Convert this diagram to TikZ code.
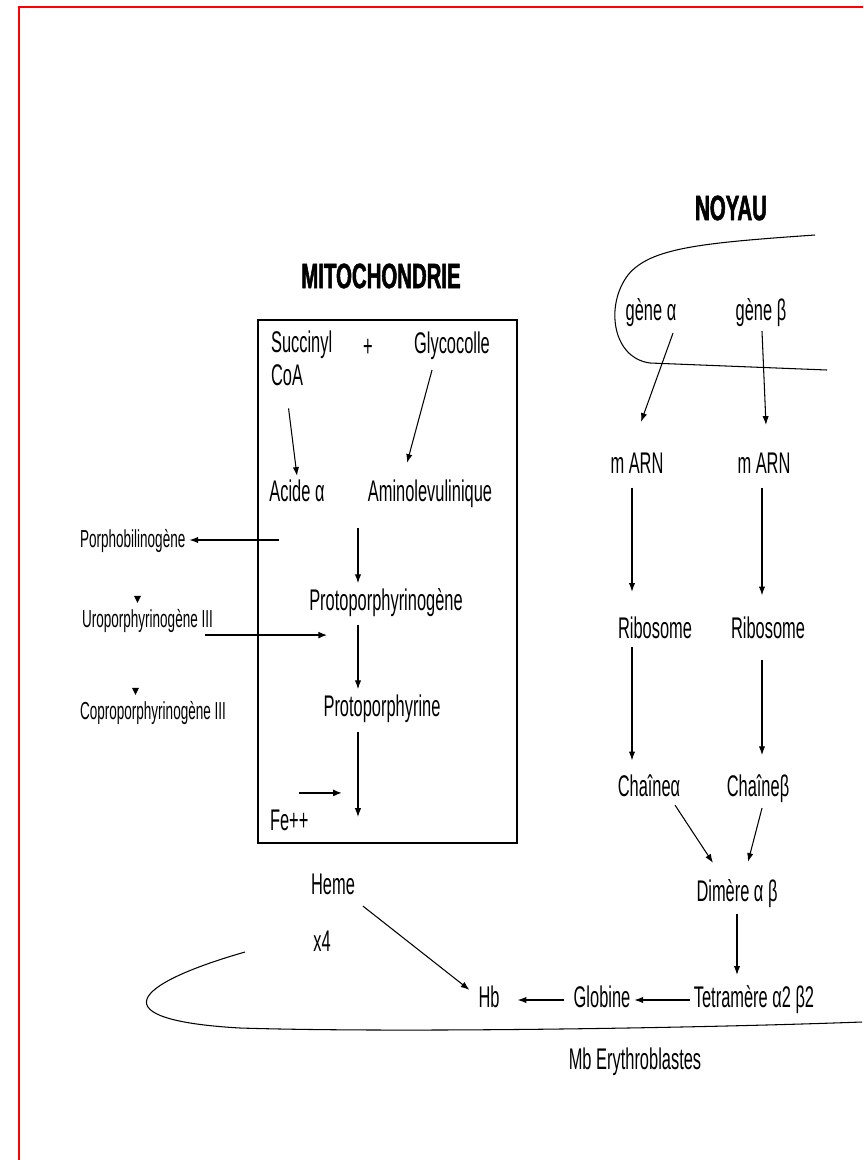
\documentclass[tikz,border=0pt]{standalone}
\usepackage{fontspec}
\setmainfont[FakeStretch=0.55]{Liberation Sans}
\newfontfamily\titlefont[FakeStretch=0.58,FakeBold=1.5]{Liberation Sans}
\usetikzlibrary{calc,arrows.meta}
\tikzset{
  lbl/.style={font=\fontsize{17pt}{19pt}\selectfont, inner sep=2pt, text height=12.5pt, text depth=3.5pt},
  petit/.style={lbl, font=\fontsize{14pt}{16pt}\selectfont},
  titre/.style={font=\titlefont\bfseries\fontsize{20pt}{22pt}\selectfont, inner sep=2pt},
  arr/.style={-{Latex[length=5pt,width=3.6pt]}},
  arrgras/.style={-{Latex[length=5pt,width=4pt]}, line width=1.3pt},
}

\begin{document}
\begin{tikzpicture}[x=0.02cm, y=-0.02cm, line width=0.6pt]
\useasboundingbox (0,0) rectangle (863,1160);
\draw[red, line width=1.6pt] (19,1160) -- (19,7) -- (863,7);

% mitochondrie
\node[titre] (mito) at (381,276) {MITOCHONDRIE};
\draw (258,320) rectangle (517,843);
\draw[line width=1.2pt] (258,843) -- (517,843);
\node[lbl, anchor=west] (succ) at (267,345) {Succinyl};
\node[lbl, anchor=west] (coa) at (267,378) {CoA};
\node[lbl] (plus) at (368,349) {+};
\node[lbl] (glyco) at (452,346) {Glycocolle};
\node[lbl] (acide) at (297,494) {Acide α};
\node[lbl] (amino) at (430,494) {Aminolevulinique};
\node[lbl] (protogene) at (386,603) {Protoporphyrinogène};
\node[lbl] (protoph) at (382,709) {Protoporphyrine};
\node[lbl, anchor=west] (fe) at (266,823) {Fe++};
\node[petit, anchor=west] (porpho) at (76,540) {Porphobilinogène};
\node[petit, anchor=west] (uro) at (78,620) {Uroporphyrinogène III};
\node[petit, anchor=west] (copro) at (76,712) {Coproporphyrinogène III};

\coordinate (axe) at (358,0);
\coordinate (pbg) at (279,540);
\coordinate (fin) at (358,817);
\draw[arr, shorten <=7pt] (coa.south) -- (acide.north);
\draw[arr] ($(glyco.south)+(-20,6)$) -- ($(amino.north)+(-23,-13)$);
\draw[arr, shorten <=9pt, shorten >=1pt] (amino.south -| axe) -- (protogene.north -| axe);
\draw[arr, shorten <=2pt, shorten >=1pt] (protogene.south -| axe) -- (protoph.north -| axe);
\draw[arr, shorten <=3pt] (protoph.south -| axe) -- (fin);
\draw[arrgras] ($(fe.north west)+(33,-12)$) -- ++(43,0);
\draw[arr] (pbg) -- (porpho.east);
\draw[arrgras] ($(uro.south east)+(-12,-3)$) -- ($(protogene.south west)+(22,14)$);
\foreach \n in {uro,copro}
  \fill ($(\n.north west)+(56,-6)$) -- ++(7,0) -- ++(-3.5,7) -- cycle;

% noyau
\node[titre] (noyau) at (731,208) {NOYAU};
\draw (815,235) .. controls (700,243) and (650,248) .. (628,275)
  .. controls (605,305) and (612,358) .. (650,363) -- (827,370);
\node[lbl] (geneA) at (651,313) {gène α};
\node[lbl] (geneB) at (761,313) {gène β};
\node[lbl] (arnA) at (637,466) {m ARN};
\node[lbl] (arnB) at (764,466) {m ARN};
\node[lbl] (riboA) at (655,631) {Ribosome};
\node[lbl] (riboB) at (768,631) {Ribosome};
\node[lbl] (chaineA) at (649,789) {Chaîneα};
\node[lbl] (chaineB) at (758,789) {Chaîneβ};
\node[lbl] (dimere) at (737,894) {Dimère α β};
\node[lbl] (tetra) at (754,1000) {Tetramère α2 β2};
\node[lbl] (globine) at (602,1000) {Globine};
\node[lbl] (hb) at (489,1000) {Hb};
\node[lbl] (heme) at (333,887) {Heme};
\node[lbl] (fois) at (322,944) {x4};
\node[lbl] (mb) at (635,1062) {Mb Erythroblastes};

\coordinate (colA) at (632,0);
\coordinate (colB) at (762,0);
\draw[arr] ($(geneA.south)+(22,2)$) -- ($(arnA.north)+(4,-26)$);
\draw[arr] ($(geneB.south)+(1,0)$) -- ($(arnB.north)+(2,-23)$);
\draw[arr, shorten <=2pt, shorten >=12pt] (arnA.south -| colA) -- (riboA.north -| colA);
\draw[arr, shorten <=2pt, shorten >=10pt] (arnB.south -| colB) -- (riboB.north -| colB);
\draw[arr, shorten <=-1pt, shorten >=6pt] (riboA.south -| colA) -- (chaineA.north -| colA);
\draw[arr, shorten <=6pt, shorten >=9pt] (riboB.south -| colB) -- (chaineB.north -| colB);
\draw[arr] ($(chaineA.south)+(26,-2)$) -- ($(dimere.north)+(-24,-13)$);
\draw[arr] ($(chaineB.south)+(4,1)$) -- ($(dimere.north)+(11,-14)$);
\draw[arr, shorten <=1pt, shorten >=4pt] (dimere.south) -- (dimere.south |- tetra.north);
\draw[arr] (tetra.west) -- (globine.east);
\draw[arr, shorten <=3pt, shorten >=8pt] (globine.west) -- (hb.east);
\draw[arr] ($(heme.south east)+(4,1)$) -- ($(hb.north west)+(-5,8)$);

% membrane
\draw (245,952) .. controls (130,985) and (100,1020) .. (240,1028)
  .. controls (400,1033) and (700,1028) .. (862,1022);

\end{tikzpicture}
\end{document}
